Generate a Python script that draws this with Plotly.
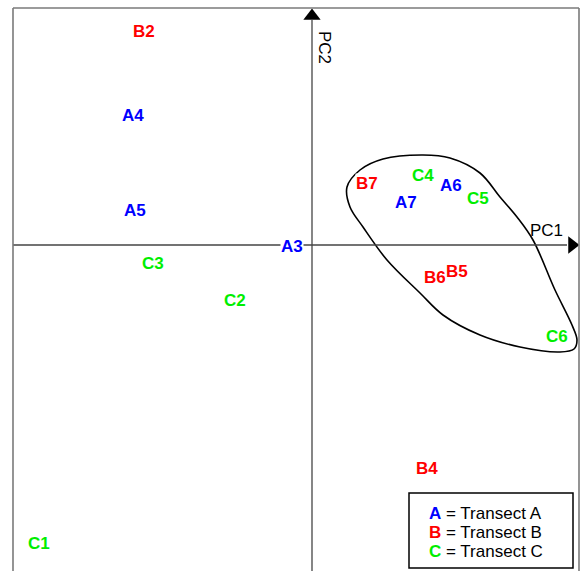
import plotly.graph_objects as go

# PCA scores (site labels)
labels = ["B2", "A4", "A5", "C3", "C2", "A3", "C1", "B7", "C4", "A6", "A7", "C5", "B6", "B5", "C6", "B4"]
pc1 = [-1.68, -1.79, -1.77, -1.59, -0.77, -0.20, -2.73, 0.55, 1.11, 1.39, 0.94, 1.66, 1.23, 1.45, 2.45, 1.15]
pc2 = [2.14, 1.30, 0.35, -0.18, -0.55, -0.01, -2.98, 0.62, 0.70, 0.60, 0.43, 0.47, -0.32, -0.26, -0.91, -2.23]

# outline drawn round the right-hand group
hull_x = [1.11, 1.38, 1.68, 1.88, 2.05, 2.21, 2.43, 2.60, 2.65, 2.62, 2.48, 2.08, 1.68, 1.31, 1.08, 0.75, 0.51, 0.38, 0.35, 0.48, 0.71, 1.11]
hull_y = [0.90, 0.87, 0.72, 0.48, 0.28, 0.05, -0.45, -0.80, -0.95, -1.04, -1.07, -1.02, -0.90, -0.70, -0.48, -0.15, 0.18, 0.38, 0.58, 0.75, 0.86, 0.90]

legend_letters = ["A", "B", "C"]
legend_names = ["Transect A", "Transect B", "Transect C"]
colors = {"A": "#0000ff", "B": "#ff0000", "C": "#00ee00"}

x_range = [-2.99, 2.67]
y_range = [-3.26, 2.37]
FONT = "Liberation Sans, Arial, Helvetica, sans-serif"

fig = go.Figure()

# PC axes through the origin
fig.add_shape(type="line", x0=x_range[0], x1=2.55, y0=0, y1=0, line=dict(color="#444444", width=1.3))
fig.add_shape(type="line", x0=0, x1=0, y0=y_range[0], y1=2.25, line=dict(color="#444444", width=1.3))

# frame (bottom edge falls outside the picture)
frame = dict(color="#7a7a7a", width=1.6)
fig.add_shape(type="line", xref="paper", yref="paper", x0=0, x1=0, y0=-0.02, y1=1, line=frame)
fig.add_shape(type="line", xref="paper", yref="paper", x0=0, x1=1, y0=1, y1=1, line=frame)
fig.add_shape(type="line", xref="paper", yref="paper", x0=1, x1=1, y0=-0.02, y1=1, line=frame)

fig.add_trace(go.Scatter(x=hull_x, y=hull_y, mode="lines",
                         line=dict(color="black", width=1.6, shape="spline", smoothing=1.0),
                         hoverinfo="skip"))

# arrow heads
fig.add_trace(go.Scatter(x=[2.60], y=[0], mode="markers", cliponaxis=False,
                         marker=dict(symbol="triangle-right", size=15, color="black"), hoverinfo="skip"))
fig.add_trace(go.Scatter(x=[0], y=[2.29], mode="markers", cliponaxis=False,
                         marker=dict(symbol="triangle-up", size=15, color="black"), hoverinfo="skip"))

for lab, x, y in zip(labels, pc1, pc2):
    fig.add_annotation(x=x, y=y, text=lab, showarrow=False, bgcolor="white", borderpad=0,
                       font=dict(family=FONT, size=17, color=colors[lab[0]], weight="bold"))

fig.add_annotation(x=2.34, y=0.15, text="PC1", showarrow=False,
                   font=dict(family=FONT, size=17, color="black"))
fig.add_annotation(x=0.13, y=1.98, text="PC2", showarrow=False, textangle=90,
                   font=dict(family=FONT, size=17, color="black"))

# legend box
fig.add_shape(type="rect", x0=0.97, x1=2.61, y0=-3.23, y1=-2.48,
              line=dict(color="black", width=1.5), fillcolor="white")
for i, (letter, name) in enumerate(zip(legend_letters, legend_names)):
    fig.add_annotation(x=1.15, y=-2.68 - 0.19 * i, xanchor="left", showarrow=False,
                       text="<b><span style='color:%s'>%s</span></b> = %s" % (colors[letter], letter, name),
                       font=dict(family=FONT, size=17, color="black"))

fig.update_xaxes(range=x_range, visible=False, fixedrange=True)
fig.update_yaxes(range=y_range, visible=False, fixedrange=True)
fig.update_layout(width=582, height=571, showlegend=False,
                  margin=dict(l=13, r=3, t=8, b=0),
                  paper_bgcolor="white", plot_bgcolor="white")

# drop the page's default body margin so the figure fills the window exactly
fig.write_html("out.html", config={"displayModeBar": False},
               post_script="document.body.style.margin='0';document.body.style.overflow='hidden';")
